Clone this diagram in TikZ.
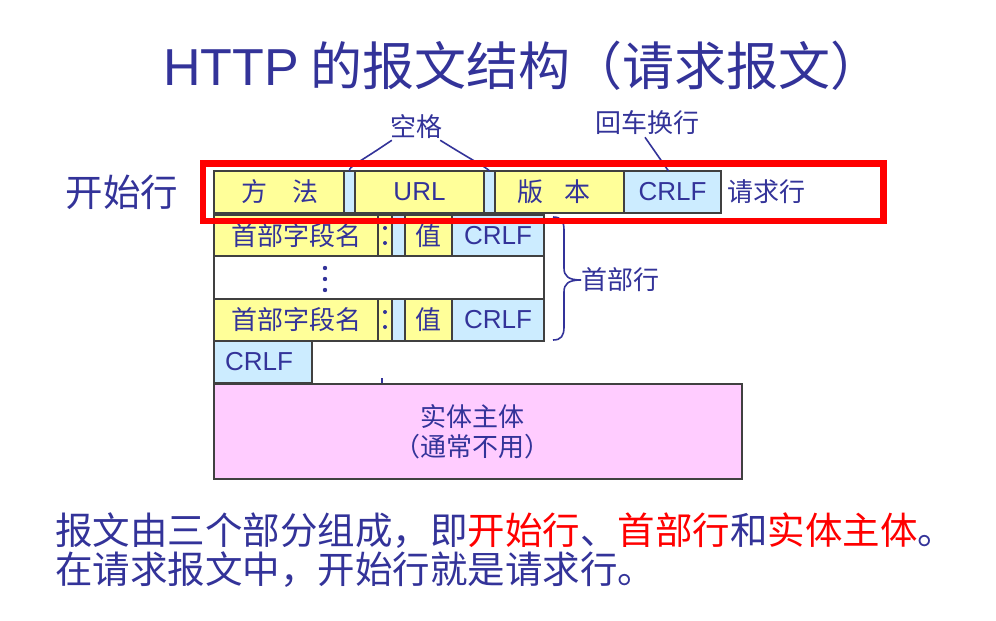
\documentclass[tikz,border=0pt]{standalone}
\usepackage{fontspec}
\setmainfont{Noto Sans CJK SC}
\newfontfamily\lat{Liberation Sans}
\usetikzlibrary{calc}
\definecolor{tblue}{RGB}{51,51,153}
\definecolor{bordc}{RGB}{64,64,64}
\definecolor{yfill}{RGB}{255,255,153}
\definecolor{bfill}{RGB}{204,236,255}
\definecolor{pfill}{RGB}{255,204,255}
\definecolor{redc}{RGB}{255,0,0}
\begin{document}
\begin{tikzpicture}[x=1pt,y=-1pt,
  box/.style={draw=bordc, line width=1.2pt, inner sep=0pt, outer sep=0pt, text=tblue, font=\fontsize{26}{30}\selectfont},
  ybox/.style={box, fill=yfill},
  bbox/.style={box, fill=bfill},
  wbox/.style={box, fill=white},
  pbox/.style={box, fill=pfill, align=center},
  lbl/.style={inner sep=0pt, text=tblue, font=\fontsize{26}{30}\selectfont},
  big/.style={inner sep=0pt, text=tblue, font=\fontsize{37.5}{40}\selectfont, anchor=west},
  conn/.style={draw=tblue, line width=1.6pt},
  dotc/.style={fill=tblue}]
\useasboundingbox (0,0) rectangle (996,621);
\fill[white] (0,0) rectangle (996,621);

% title
\node[inner sep=0pt, anchor=west, text=tblue, font=\fontsize{52}{56}\selectfont] (title) at (163,66) {{\lat HTTP} 的报文结构（请求报文）};

% start line label
\node[inner sep=0pt, text=tblue, font=\fontsize{37.5}{40}\selectfont] (kshl) at (122,192) {开始行};

% request line
\node[ybox, minimum width=130, minimum height=42] (ff) at (279,192) {};
\node[lbl] (fft) at (280,192) {方\hspace{25pt}法};
\node[bbox, minimum width=11, minimum height=42] (sp1) at (349.5,192) {};
\node[ybox, minimum width=129, minimum height=42] (url) at (419.5,192) {\lat URL};
\node[bbox, minimum width=11, minimum height=42] (sp2) at (489.5,192) {};
\node[ybox, minimum width=129, minimum height=42] (bb) at (559.5,192) {};
\node[lbl] (bbt) at (554,192) {版\hspace{21pt}本};
\node[bbox, minimum width=97, minimum height=42] (rc) at (672.5,192) {\lat CRLF};
\node[lbl] (qqh) at (766,192) {请求行};

% labels above
\node[lbl] (kg) at (416,127) {空格};
\node[lbl] (hc) at (647,123) {回车换行};
\draw[conn] ($(kg.south west)+(2,1)$) .. controls (360,162) and (348,167) .. (sp1.north);
\draw[conn] ($(kg.south east)+(-2,1)$) .. controls (475,162) and (486,167) .. (sp2.north);
\draw[conn] ($(hc.south)+(-2,2)$) -- ($(rc.north)+(-4,0)$);

% header row 1
\node[ybox, minimum width=164, minimum height=41] (n1) at (296,235.5) {首部字段名};
\node[ybox, minimum width=14, minimum height=41] (c1) at (385,235.5) {};
\node[bbox, minimum width=13, minimum height=41] (s1) at (398.5,235.5) {};
\node[ybox, minimum width=47, minimum height=41] (v1) at (428.5,235.5) {值};
\node[bbox, minimum width=92, minimum height=41] (r1) at (498,235.5) {\lat CRLF};
\fill[dotc] (385,228) circle (2);
\fill[dotc] (385,243) circle (2);

% dots row
\node[wbox, minimum width=330, minimum height=43] (dr) at (379,277.5) {};
\fill[dotc] (325,268) circle (2.2);
\fill[dotc] (325,279) circle (2.2);
\fill[dotc] (325,290) circle (2.2);

% header row n
\node[ybox, minimum width=164, minimum height=42] (n2) at (296,320) {首部字段名};
\node[ybox, minimum width=14, minimum height=42] (c2) at (385,320) {};
\node[bbox, minimum width=13, minimum height=42] (s2) at (398.5,320) {};
\node[ybox, minimum width=47, minimum height=42] (v2) at (428.5,320) {值};
\node[bbox, minimum width=92, minimum height=42] (r2) at (498,320) {\lat CRLF};
\fill[dotc] (385,312) circle (2);
\fill[dotc] (385,327) circle (2);

% final CRLF
\node[bbox, minimum width=98, minimum height=42] (rf) at (263,362) {};
\node[lbl] (rft) at (259,362) {\lat CRLF};

% small tick
\draw[draw=tblue, line width=2pt] (382,378) -- (382,384);

% entity body
\node[pbox, minimum width=528, minimum height=95] (body) at (478,431.5) {};
\node[lbl, align=center] (bodyt) at (472,432) {实体主体\\（通常不用）};

% brace
\draw[conn] (553,217) .. controls (561,217) and (564,221) .. (564,230) -- (564,268) .. controls (564,276) and (568,280) .. (581,280);
\draw[conn] (553,340) .. controls (561,340) and (564,336) .. (564,327) -- (564,292) .. controls (564,284) and (568,280) .. (581,280);
\node[lbl] (sbh) at (620,280) {首部行};

% red frame
\draw[draw=redc, line width=6.5pt] (203,163.5) rectangle (883.5,221);

% bottom text
\node[big] (l1) at (55,531) {报文由三个部分组成，即\textcolor{redc}{开始行}、\textcolor{redc}{首部行}和\textcolor{redc}{实体主体}。};
\node[big] (l2) at (55,570) {在请求报文中，开始行就是请求行。};
\end{tikzpicture}
\end{document}
